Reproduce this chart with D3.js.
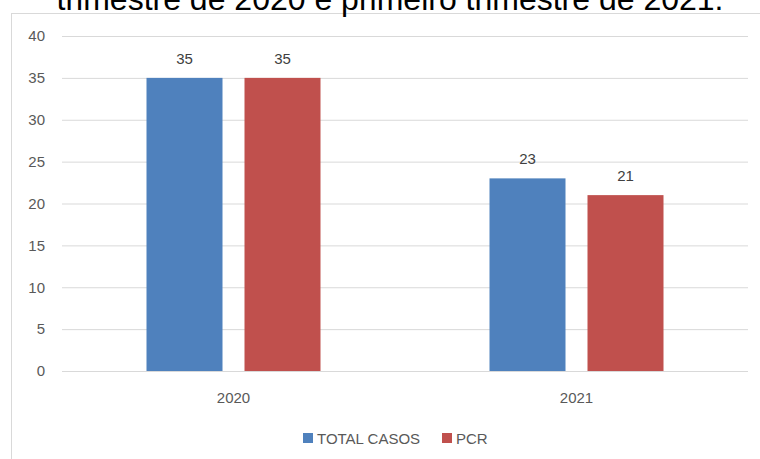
<!DOCTYPE html>
<html><head><meta charset="utf-8">
<script src="https://cdn.jsdelivr.net/npm/d3@7/dist/d3.min.js"></script>
<style>body{margin:0;background:#fff}svg{display:block}</style>
</head><body>
<svg id="c" width="760" height="459"></svg>
<script>
const categories = ["2020", "2021"];
const seriesNames = ["TOTAL CASOS", "PCR"];
const totalCasos = [35, 23];
const pcr = [35, 21];
const yTicks = [0, 5, 10, 15, 20, 25, 30, 35, 40];
const colors = ["#4f81bd", "#c0504d"];
const title = "trimestre de 2020 e primeiro trimestre de 2021.";

(function () {
const svg = d3.select("#c");
const font = "'Liberation Sans', Arial, sans-serif";
const pLeft = 62, pRight = 748, pTop = 36, pBottom = 371;

svg.append("rect").attr("x", 11.5).attr("y", 13.5).attr("width", 760).attr("height", 460)
  .attr("fill", "none").attr("stroke", "#d9d9d9");

svg.append("text").attr("x", 390).attr("y", 9.5).attr("text-anchor", "middle")
  .attr("font-family", font).attr("font-size", 32).attr("fill", "#000").text(title);

const x0 = d3.scaleBand().domain(categories).range([pLeft, pRight]);
const y = d3.scaleLinear().domain([0, 40]).range([pBottom, pTop]);

const yAxis = d3.axisLeft(y).tickValues(yTicks).tickSize(-(pRight - pLeft)).tickPadding(17);
const ga = svg.append("g").attr("transform", `translate(${pLeft},0)`).call(yAxis);
ga.select(".domain").remove();
ga.selectAll(".tick line").attr("stroke", "#d9d9d9");
ga.selectAll(".tick text").attr("font-family", font).attr("font-size", 15).attr("fill", "#595959");

const xAxis = d3.axisBottom(x0).tickSize(0).tickPadding(21);
const gx = svg.append("g").attr("transform", `translate(0,${pBottom})`).call(xAxis);
gx.select(".domain").remove();
gx.selectAll(".tick text").attr("font-family", font).attr("font-size", 15).attr("fill", "#595959");

const series = [totalCasos, pcr];
const bw = 76, gap = 22;
categories.forEach((c, i) => {
  const cx = x0(c) + x0.bandwidth() / 2;
  series.forEach((s, j) => {
    const bx = cx - (bw * 2 + gap) / 2 + j * (bw + gap);
    svg.append("rect").attr("x", bx).attr("y", y(s[i])).attr("width", bw)
      .attr("height", y(0) - y(s[i])).attr("fill", colors[j]);
    svg.append("text").attr("x", bx + bw / 2).attr("y", y(s[i]) - 14)
      .attr("text-anchor", "middle").attr("font-family", font).attr("font-size", 15)
      .attr("fill", "#404040").text(s[i]);
  });
});

const lg = svg.append("g");
const legendX = [303, 442];
seriesNames.forEach((n, j) => {
  lg.append("rect").attr("x", legendX[j]).attr("y", 433).attr("width", 10).attr("height", 10).attr("fill", colors[j]);
  lg.append("text").attr("x", legendX[j] + 14).attr("y", 444).attr("font-family", font)
    .attr("font-size", 15).attr("fill", "#595959").text(n);
});
})();
</script>
</body></html>
